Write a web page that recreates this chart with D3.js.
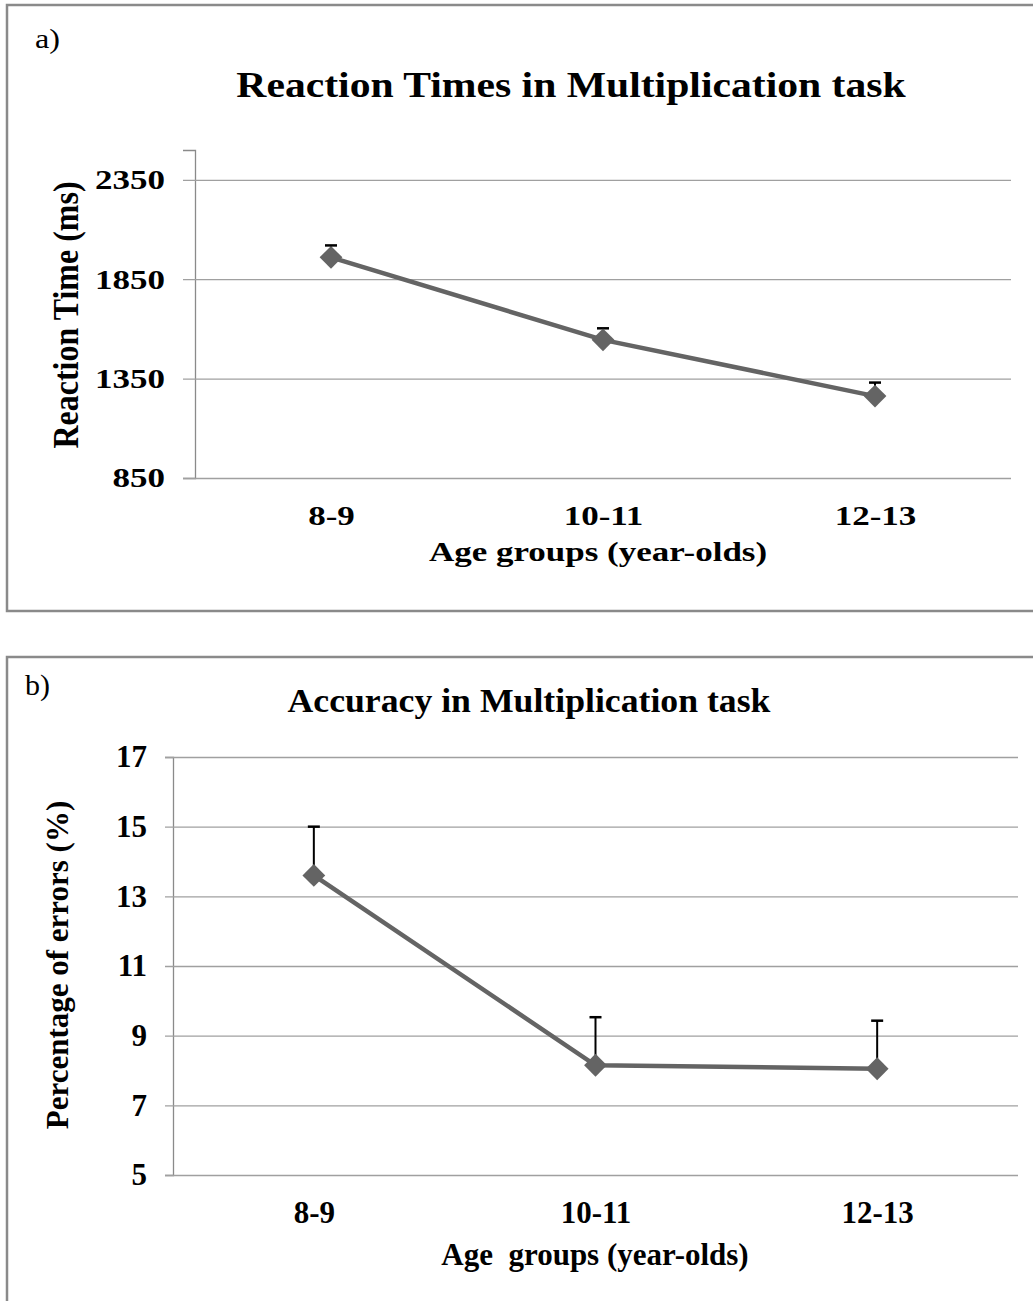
<!DOCTYPE html>
<html>
<head>
<meta charset="utf-8">
<script src="https://cdn.jsdelivr.net/npm/d3@7"></script>
<style>
  body { margin: 0; background: #fff; }
  text { font-family: "Liberation Serif", "Times New Roman", serif; }
</style>
</head>
<body>
<div class="wrapper"></div>
<script>
// data
const ageGroups = ['8-9', '10-11', '12-13']
const rtMeans = [1960, 1545, 1262]
const rtErrors = [60, 58, 68]
const rtTicks = [850, 1350, 1850, 2350]
const errMeans = [13.6, 8.15, 8.05]
const errErrors = [1.4, 1.38, 1.38]
const errTicks = [5, 7, 9, 11, 13, 15, 17]

const width = 1033, height = 1301

const svg = d3.select('.wrapper')
  .append('svg')
  .attr('width', width)
  .attr('height', height)

// the top figure was pasted in horizontally stretched, so its text gets sx > 1
const panels = [
  {
    tag: 'a)', tagX: 35, tagY: 48, tagSize: 28, tagSx: 1.15,
    box: { x: 7, y: 5, h: 606 },
    title: 'Reaction Times in Multiplication task', titleX: 571, titleY: 97, titleSize: 35, titleSx: 1.19,
    yTitle: 'Reaction Time (ms)', yTitleX: 78, yTitleY: 315, yTitleSize: 32, yTitleSx: 1.15,
    xTitle: 'Age groups (year-olds)', xTitleX: 598, xTitleY: 561,
    left: 195, right: 1011, top: 150, bottom: 478,
    domain: [850, 2500], ticks: rtTicks, tick: 12, tickPad: 18,
    fontSize: 28, sx: 1.25,
    xLabelY: 525, capW: 12,
    means: rtMeans, errs: rtErrors
  },
  {
    tag: 'b)', tagX: 25, tagY: 695, tagSize: 30, tagSx: 1,
    box: { x: 7, y: 657, h: 660 },
    title: 'Accuracy in Multiplication task', titleX: 529, titleY: 712, titleSize: 34, titleSx: 1.05,
    yTitle: 'Percentage of errors (%)', yTitleX: 68, yTitleY: 965, yTitleSize: 31, yTitleSx: 1,
    xTitle: 'Age  groups (year-olds)', xTitleX: 595, xTitleY: 1265,
    left: 173, right: 1018, top: 757, bottom: 1175,
    domain: [5, 17], ticks: errTicks, tick: 8, tickPad: 18,
    fontSize: 31, sx: 1,
    xLabelY: 1223, capW: 12,
    means: errMeans, errs: errErrors
  }
]

panels.forEach(drawPanel)

// widen text around its own anchor point
function stretch(sel, sx) {
  sel.each(function () {
    const t = d3.select(this)
    const tx = +t.attr('x') || 0, ty = +t.attr('y') || 0
    const prev = t.attr('transform') || ''
    t.attr('x', 0).attr('y', 0)
      .attr('transform', `${prev} translate(${tx},${ty}) scale(${sx},1)`)
  })
}

function drawPanel(p) {
  const g = svg.append('g')

  // outer frame
  g.append('rect')
    .attr('x', p.box.x)
    .attr('y', p.box.y)
    .attr('width', width)
    .attr('height', p.box.h)
    .attr('fill', 'none')
    .attr('stroke', '#8a8a8a')
    .attr('stroke-width', 2.5)

  const x = d3.scalePoint().domain(ageGroups).range([p.left, p.right]).padding(0.5)
  const y = d3.scaleLinear().domain(p.domain).range([p.bottom, p.top])

  // gridlines + y ticks
  const yAxis = g.append('g')
    .attr('transform', `translate(${p.left},0)`)
    .call(d3.axisLeft(y).tickValues(p.ticks).tickSize(p.tick).tickPadding(p.tickPad).tickFormat(d3.format('d')))
  yAxis.select('.domain').attr('stroke', '#8a8a8a').attr('stroke-width', 1.3)
  yAxis.selectAll('.tick line').attr('stroke', '#a0a0a0').attr('stroke-width', 1.3)
    .attr('x1', p.right - p.left)
  yAxis.selectAll('.tick text')
    .attr('fill', '#000')
    .style('font-size', p.fontSize + 'px')
    .style('font-weight', 'bold')
    .style('font-family', '"Liberation Serif", serif')
    .call(stretch, p.sx)

  // x labels
  const xAxis = g.append('g')
    .attr('transform', `translate(0,${p.xLabelY})`)
    .call(d3.axisBottom(x).tickSize(0).tickPadding(0))
  xAxis.select('.domain').remove()
  xAxis.selectAll('.tick text')
    .attr('dy', 0)
    .attr('fill', '#000')
    .style('font-size', p.fontSize + 'px')
    .style('font-weight', 'bold')
    .style('font-family', '"Liberation Serif", serif')
    .call(stretch, p.sx)

  // titles
  g.append('text')
    .attr('x', p.tagX).attr('y', p.tagY)
    .style('font-size', p.tagSize + 'px')
    .text(p.tag)
    .call(stretch, p.tagSx)

  g.append('text')
    .attr('x', p.titleX).attr('y', p.titleY)
    .attr('text-anchor', 'middle')
    .style('font-size', p.titleSize + 'px')
    .style('font-weight', 'bold')
    .text(p.title)
    .call(stretch, p.titleSx)

  g.append('text')
    .attr('x', p.xTitleX).attr('y', p.xTitleY)
    .attr('text-anchor', 'middle')
    .style('font-size', p.fontSize + 'px')
    .style('font-weight', 'bold')
    .style('white-space', 'pre')
    .text(p.xTitle)
    .call(stretch, p.sx)

  g.append('text')
    .attr('transform', `translate(${p.yTitleX},${p.yTitleY}) scale(${p.yTitleSx},1) rotate(-90)`)
    .attr('text-anchor', 'middle')
    .style('font-size', p.yTitleSize + 'px')
    .style('font-weight', 'bold')
    .style('white-space', 'pre')
    .text(p.yTitle)

  const pts = ageGroups.map((a, i) => ({ a, m: p.means[i], e: p.errs[i] }))

  // error bars (upper only)
  const eb = g.append('g').attr('stroke', '#000').attr('stroke-width', 2)
  eb.selectAll('line.stem')
    .data(pts)
    .join('line')
    .attr('class', 'stem')
    .attr('x1', d => x(d.a)).attr('x2', d => x(d.a))
    .attr('y1', d => y(d.m)).attr('y2', d => y(d.m + d.e))
  eb.selectAll('line.cap')
    .data(pts)
    .join('line')
    .attr('class', 'cap')
    .attr('stroke-width', 2.5)
    .attr('x1', d => x(d.a) - p.capW / 2).attr('x2', d => x(d.a) + p.capW / 2)
    .attr('y1', d => y(d.m + d.e)).attr('y2', d => y(d.m + d.e))

  // line
  g.append('path')
    .datum(pts)
    .attr('fill', 'none')
    .attr('stroke', '#646464')
    .attr('stroke-width', 4.5)
    .attr('d', d3.line().x(d => x(d.a)).y(d => y(d.m)))

  // diamond markers
  g.selectAll('path.marker')
    .data(pts)
    .join('path')
    .attr('class', 'marker')
    .attr('transform', d => `translate(${x(d.a)},${y(d.m)}) rotate(45)`)
    .attr('d', d3.symbol().type(d3.symbolSquare).size(260))
    .attr('fill', '#646464')
}
</script>
</body>
</html>
